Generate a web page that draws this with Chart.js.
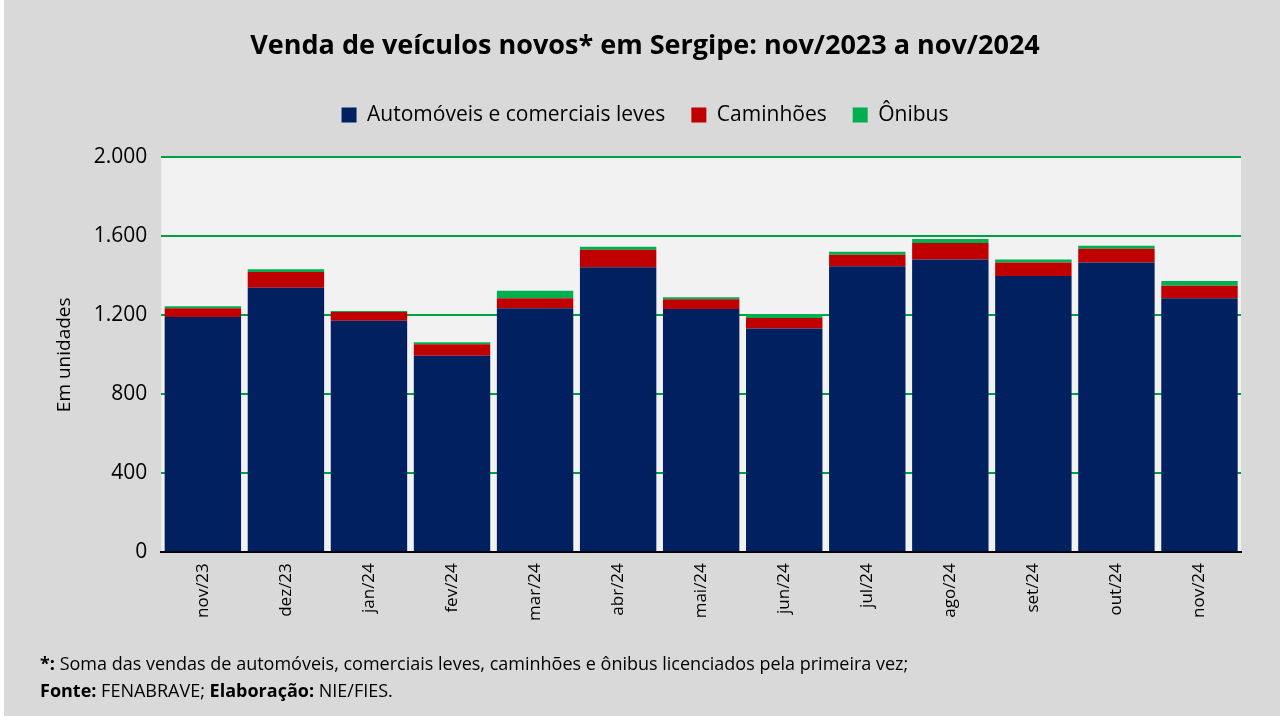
<!DOCTYPE html>
<html><head><meta charset="utf-8">
<script src="https://cdn.jsdelivr.net/npm/chart.js@4"></script>
<style>
body{margin:0;background:#fff;font-family:Calibri,Carlito,"Open Sans",sans-serif;}
#wrap{position:absolute;left:4px;top:0;width:1276px;height:716px;background:#d9d9d9;}
canvas{position:absolute;left:0;top:0;}
#foot{position:absolute;left:36px;top:650px;font-size:18px;line-height:27px;color:#000;font-family:"Open Sans",sans-serif;}
</style></head><body>
<div id="wrap"><canvas id="c" width="1276" height="716"></canvas>
<div id="foot"><b>*:</b> Soma das vendas de automóveis, comerciais leves, caminhões e ônibus licenciados pela primeira vez;<br><b>Fonte:</b> FENABRAVE; <b>Elaboração:</b> NIE/FIES.</div></div>
<script>
const categories=["nov/23","dez/23","jan/24","fev/24","mar/24","abr/24","mai/24","jun/24","jul/24","ago/24","set/24","out/24","nov/24"];
const automoveis=[1192,1340,1172,995,1236,1443,1232,1133,1448,1483,1399,1468,1286];
const caminhoes=[44,79,45,59,50,89,49,54,59,83,69,69,64];
const onibus=[10,14,5,10,39,15,10,20,15,20,15,15,24];
const yTicks=[0,400,800,1200,1600,2000];
const plotBg={id:'pb',beforeDraw(ch){const a=ch.chartArea,x=ch.ctx;x.save();x.fillStyle='#f2f2f2';x.fillRect(a.left,a.top,a.right-a.left,a.bottom-a.top);x.restore();}};
new Chart(document.getElementById('c'),{type:'bar',
data:{labels:categories,datasets:[
{label:'Automóveis e comerciais leves',data:automoveis,backgroundColor:'#002060'},
{label:'Caminhões',data:caminhoes,backgroundColor:'#c00000'},
{label:'Ônibus',data:onibus,backgroundColor:'#00b050'}]},
options:{responsive:false,animation:false,
layout:{padding:{left:45,right:39,top:10,bottom:92}},
datasets:{bar:{barPercentage:0.92,categoryPercentage:1}},
plugins:{
title:{display:true,text:'Venda de veículos novos* em Sergipe: nov/2023 a nov/2024',color:'#000',font:{size:27,weight:'bold',family:'"Open Sans",sans-serif'},padding:{top:20,bottom:16}},
legend:{labels:{color:'#000',font:{size:21,family:'"Open Sans",sans-serif'},boxWidth:15,boxHeight:15,padding:26}},
tooltip:{enabled:false}},
scales:{
x:{stacked:true,grid:{display:false},border:{color:'#000',width:2},
ticks:{color:'#000',font:{size:17,family:'"Open Sans",sans-serif'},maxRotation:90,minRotation:90}},
y:{stacked:true,min:0,max:2000,afterBuildTicks(s){s.ticks=yTicks.map(v=>({value:v}));},
grid:{color:'#00a040',lineWidth:2,drawTicks:false},border:{display:false},
ticks:{color:'#000',padding:14,font:{size:21,family:'"Open Sans",sans-serif'},callback:v=>v.toLocaleString('pt-BR')},
title:{display:true,text:'Em unidades',color:'#000',font:{size:19,family:'"Open Sans",sans-serif'}}}}},
plugins:[plotBg,{id:'lp',beforeInit(ch){const f=ch.legend.fit;ch.legend.fit=function(){f.bind(ch.legend)();this.height+=22;};}}]});
</script></body></html>
